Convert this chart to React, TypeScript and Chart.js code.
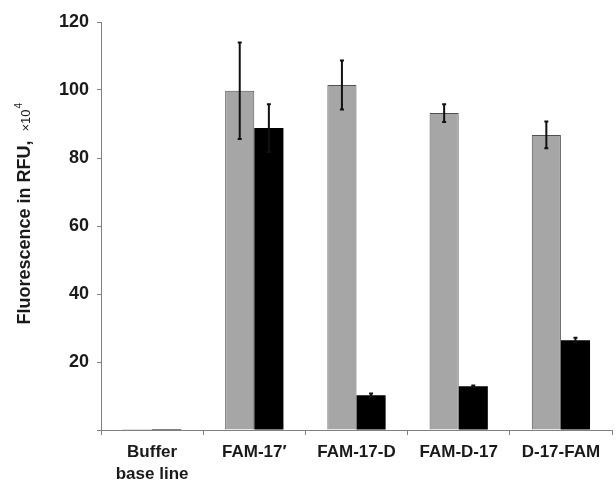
import React, { useEffect, useRef } from "react";
import { Chart, registerables } from "chart.js";

Chart.register(...registerables);

const categories: (string | string[])[] = [["Buffer", "base line"], "FAM-17′", "FAM-17-D", "FAM-D-17", "D-17-FAM"];
const grayValues = [0.3, 99.8, 101.5, 93.2, 86.8];
const grayErrors = [0, 14.2, 7.2, 2.6, 3.9];
const blackValues = [0.3, 88.8, 10.2, 12.9, 26.4];
const blackErrors = [0, 7.0, 0.5, 0.2, 0.7];
const yTicks = [20, 40, 60, 80, 100, 120];
const yTitleMain = "Fluorescence in RFU,";
const yTitleUnit = "×10";
const yTitleExp = "4";

const FONT = "Liberation Sans, Arial, sans-serif";

const errorBarPlugin = {
  id: "errorBars",
  afterDatasetsDraw(chart: any) {
    const ctx = chart.ctx;
    const y = chart.scales.y;
    chart.data.datasets.forEach((ds: any, i: number) => {
      const meta = chart.getDatasetMeta(i);
      const errs: number[] = ds.errors || [];
      meta.data.forEach((el: any, j: number) => {
        const e = errs[j];
        if (!e) return;
        const v = ds.data[j];
        const top = y.getPixelForValue(v + e);
        const bot = y.getPixelForValue(v - e);
        ctx.save();
        ctx.strokeStyle = "#111";
        ctx.lineWidth = 2;
        ctx.beginPath();
        ctx.moveTo(el.x, top);
        ctx.lineTo(el.x, bot);
        ctx.stroke();
        ctx.beginPath();
        ctx.moveTo(el.x - 2, top);
        ctx.lineTo(el.x + 2, top);
        ctx.moveTo(el.x - 2, bot);
        ctx.lineTo(el.x + 2, bot);
        ctx.stroke();
        ctx.restore();
      });
    });
  },
};

const yTitlePlugin = {
  id: "yTitle",
  afterDraw(chart: any) {
    const ctx = chart.ctx;
    const area = chart.chartArea;
    ctx.save();
    const mainFont = `bold 18px ${FONT}`;
    const unitFont = `13px ${FONT}`;
    const expFont = `10px ${FONT}`;
    ctx.font = mainFont;
    const wMain = ctx.measureText(yTitleMain).width;
    ctx.font = unitFont;
    const gap = 9;
    const wUnit = ctx.measureText(yTitleUnit).width;
    ctx.font = expFont;
    const wExp = ctx.measureText(yTitleExp).width;
    const total = wMain + gap + wUnit + wExp + 1;
    const cy = area.top + (area.bottom - area.top) * 0.47;
    ctx.translate(30, cy);
    ctx.rotate(-Math.PI / 2);
    ctx.fillStyle = "#1a1a1a";
    ctx.textBaseline = "alphabetic";
    ctx.textAlign = "left";
    let x = -total / 2;
    ctx.font = mainFont;
    ctx.fillText(yTitleMain, x, 0);
    x += wMain + gap;
    ctx.font = unitFont;
    ctx.fillText(yTitleUnit, x, 0);
    x += wUnit + 1;
    ctx.font = expFont;
    ctx.fillText(yTitleExp, x, -8);
    ctx.restore();
  },
};

export default function App() {
  const ref = useRef<HTMLCanvasElement | null>(null);
  useEffect(() => {
    if (!ref.current) return;
    const chart = new Chart(ref.current, {
      type: "bar",
      data: {
        labels: categories as any,
        datasets: [
          {
            data: grayValues,
            errors: grayErrors,
            backgroundColor: "#a6a6a6",
            borderColor: "#505050",
            borderWidth: 1,
            categoryPercentage: 0.57,
            barPercentage: 1.0,
          } as any,
          {
            data: blackValues,
            errors: blackErrors,
            backgroundColor: "#000000",
            borderColor: "#000000",
            borderWidth: 0,
            categoryPercentage: 0.57,
            barPercentage: 1.0,
          } as any,
        ],
      },
      options: {
        animation: false,
        responsive: false,
        maintainAspectRatio: false,
        layout: { padding: { top: 22, right: 4, left: 0, bottom: 0 } },
        plugins: { legend: { display: false }, tooltip: { enabled: false } },
        scales: {
          x: {
            offset: true,
            grid: { display: true, drawOnChartArea: false, offset: true, tickLength: 5, color: "#808080" },
            border: { display: true, color: "#808080", width: 1 },
            ticks: {
              color: "#1a1a1a",
              font: { family: FONT, size: 17, weight: "bold", lineHeight: 1.3 },
              padding: 6,
              maxRotation: 0,
              autoSkip: false,
            },
            afterFit(scale: any) {
              scale.height = 52;
            },
          },
          y: {
            min: 0,
            max: 120,
            afterBuildTicks(scale: any) {
              scale.ticks = [{ value: 0 }, ...yTicks.map((v) => ({ value: v }))];
            },
            grid: { display: true, drawOnChartArea: false, tickLength: 4, color: "#808080" },
            border: { display: true, color: "#808080", width: 1 },
            ticks: {
              color: "#1a1a1a",
              font: { family: FONT, size: 18, weight: "bold" },
              padding: 8,
              callback: (v: any) => (v === 0 ? "" : String(v)),
            },
            title: { display: false },
            afterFit(scale: any) {
              scale.width = 101;
            },
          },
        },
      },
      plugins: [errorBarPlugin, yTitlePlugin],
    });
    return () => chart.destroy();
  }, []);
  return (
    <div style={{ position: "fixed", left: 0, top: 0, width: 616, height: 482, background: "#fff" }}>
      <canvas ref={ref} width={616} height={482} style={{ width: 616, height: 482 }} />
    </div>
  );
}
